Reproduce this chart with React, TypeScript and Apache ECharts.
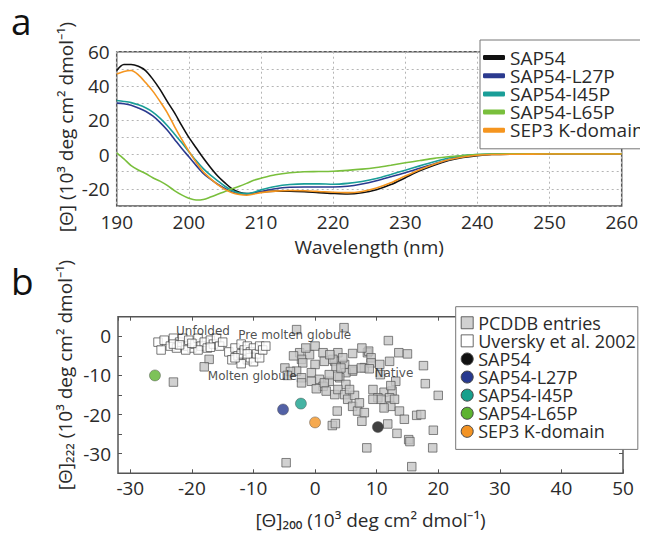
import React, { useEffect, useRef } from "react";
import * as echarts from "echarts";

// ---------- Panel a: CD spectra ----------
const wavelengths = [190,191,192,193,194,195,196,197,198,199,200,201,202,203,204,205,206,207,208,209,210,212,214,216,218,220,222,224,226,228,230,232,234,236,238,240,242,245,250,255,260];
const sap54 = [49,52.5,52.5,51.5,49,44,38,31,24.5,17,10,4,-2,-7.5,-12.5,-16.5,-20,-22,-22.8,-22.5,-21.8,-21.3,-21.3,-21.6,-22.2,-22.7,-23,-22.3,-20.5,-17.5,-13.5,-9.5,-6.2,-3.5,-1.7,-0.6,0,0.3,0.4,0.5,0.5];
const sap54L27P = [30,29.6,28.8,27.2,25.3,22.5,18.8,14.3,9,3.7,-1.3,-6.3,-11,-14.3,-17.3,-19.8,-21.8,-22.8,-23,-22.4,-21.5,-19.9,-19.1,-18.9,-18.9,-18.9,-18.5,-17.2,-15.3,-13,-10.6,-8,-5.5,-3,-1.2,-0.2,0.2,0.4,0.4,0.4,0.4];
const sap54I45P = [31.5,31,30.3,29,27.3,24.8,21.3,17,12,7,1.7,-3.5,-8.2,-12,-15.3,-18.5,-21,-22.5,-22.8,-22,-20.6,-18.6,-17.5,-17.1,-17.1,-17.3,-16.8,-15.7,-14,-11.6,-9.1,-6.6,-4.2,-2,-0.6,0,0.3,0.5,0.5,0.5,0.5];
const sap54L65P = [1,-2.5,-6.5,-9,-11,-13.5,-15.5,-18,-21,-23.5,-25.5,-26.5,-26.2,-24.8,-23.2,-21.5,-20,-18.5,-16.8,-15,-13.8,-11.8,-10.6,-10,-9.9,-9.7,-9.2,-8.5,-7.5,-6.2,-4.8,-3.5,-2.2,-1.3,-0.5,0,0.3,0.5,0.5,0.5,0.5];
const sep3K = [47,48.5,49,46.5,42,37,31,24.5,16.5,9,2,-4.5,-10,-14,-17.5,-20.3,-22.3,-23.3,-23.7,-23,-22.2,-21.3,-21,-21.1,-21.5,-22,-22.2,-21.5,-19.5,-16.5,-12.5,-8.8,-5.6,-3,-1.4,-0.4,0,0.2,0.3,0.3,0.3];

const lineNames = ["SAP54", "SAP54-L27P", "SAP54-I45P", "SAP54-L65P", "SEP3 K-domain"];
const lineColors = ["#111111", "#2b3a8f", "#1a9e98", "#79bf3c", "#f5951f"];
const lineValues = [sap54, sap54L27P, sap54I45P, sap54L65P, sep3K];

// ---------- Panel b: [Θ]200 vs [Θ]222 ----------
const pcddb = [
  [-23,-11.7],[-17.2,-5.9],[-18,-7.8],[-4.7,-32.3],
  [-3,1.7],[4.7,2.2],[0,-2.5],[-2.5,-4.2],[-0.9,-4.7],[1.3,-4.2],[3.7,-4.2],[-2.2,-5.9],[-2,-6.8],[0,-7.2],[1.5,-6.4],[3.2,-6.4],[4.8,-7.2],[6.1,-8.9],[5,-9.3],[-3,-8.9],[-4.9,-8.1],[-0.6,-9.3],[-2.2,-10.6],[0.7,-11],[2.3,-11.5],[4,-10.6],[1.3,-12.8],[5,-12.3],[8.5,-4.2],[8,-8],
  [-2.2,-11.9],[-0.6,-11.5],[0.2,-13.4],[1.5,-11.9],[1.8,-14],[3.2,-14.9],[3.7,-13.6],[4.8,-14.9],[5.3,-16.1],[6.4,-15.1],[6.1,-17.9],[6.9,-19.1],[8,-19.5],[7.6,-21.7],[3.6,-19.1],[2.8,-22.8],[3.3,-22.3],[8.4,-28.5],
  [11.9,-1.1],[8.7,-3.8],[9.1,-5.5],[9.1,-6.8],[13.6,-4.2],[15,-4.5],[12.1,-6.4],[10.5,-7.2],[7.5,-8.1],[8.8,-8.3],[10.6,-9.8],[17.6,-7.5],[13.1,-11.5],[17.9,-12.1],[9.4,-13.6],[11.2,-14.3],[12.5,-14],[20,-15.1],[10.2,-15.7],[12.1,-15.7],
  [10.7,-16.1],[12.3,-17.9],[11.2,-18.3],[13.7,-19.1],[14.5,-21.2],[16.5,-20.2],[17.2,-20],[11.8,-22.4],[13.3,-24.8],[15.2,-26.4],[15.4,-26.9],[19.2,-24],[19.1,-28.5],[15.7,-33.3],
  [2.3,-9.8],[3.4,-7.7],[2.9,-5.9],[3.7,-10.2],[5.6,-13.6],[7.2,-17],[9.4,-16.1],[12.9,-16.1],[12.3,-12.6],[6.1,-8.5],[4.2,-8.1],[4.5,-5.5],[6.1,-4.4],[7.6,-3],[2.4,-4.7],[-4,-9],[-1.5,-3],[-3.5,-5],[-4.5,-10]
];
const uversky = [
  [-25.5,-1.5],[-25,-3.5],[-24.5,-1],[-23.5,-2.5],[-23,-0.5],[-22.5,-3],[-22,-1.5],[-21.5,-0.5],[-21,-2.5],[-20.5,-1],[-20,-3],[-19.5,-2],[-19,-0.5],[-18.5,-2.5],[-18,-1.5],[-17.5,-3],[-17,-1],[-16.5,-2],[-16,-0.5],[-15.5,-2.5],[-15,-1.5],[-21,-3.5],[-19,-3.5],[-23,-2],[-17,-2.8],[-20,-1.8],[-22,-2.2],
  [-14,-4],[-13.5,-6],[-13,-3],[-12.5,-5],[-12,-2],[-12,-4.5],[-11.5,-3.5],[-11,-6],[-11,-2.5],[-10.5,-4],[-10.5,-5.5],[-10,-3],[-10,-6.5],[-9.5,-4.5],[-9,-2.5],[-9,-5.5],[-8.5,-3.5],[-8,-2.5],[-12,-7],[-13,-5.5],[-11,-4.5]
];
const proteinNames = ["SAP54", "SAP54-L27P", "SAP54-I45P", "SAP54-L65P", "SEP3 K-domain"];
const proteinPoints = [[10.2,-23.2],[-5.2,-18.7],[-2.3,-17.2],[-26,-10],[0,-22]];
const proteinColors = ["#111111", "#27398f", "#17a08c", "#5db330", "#f39323"];
const regionLabels = ["Unfolded", "Pre molten globule", "Molten globule", "Native"];
const regionLabelPos = [[-18.2,1.3],[-3.3,0.2],[-10.2,-10.1],[12.8,-9.3]];

const FONT = "'Open Sans', sans-serif";
const TXT = "#2a2a2a";

export default function App() {
  const ref = useRef<HTMLDivElement>(null);
  useEffect(() => {
    if (!ref.current) return;
    const chart = echarts.init(ref.current, null, { renderer: "svg" });

    const lineSeries = lineNames.map((n, i) => ({
      name: n,
      type: "line",
      xAxisIndex: 0,
      yAxisIndex: 0,
      data: wavelengths.map((w, j) => [w, lineValues[i][j]]),
      showSymbol: false,
      smooth: 0.3,
      lineStyle: { color: lineColors[i], width: 1.6 },
      itemStyle: { color: lineColors[i] },
      z: 3,
    }));

    const scatterProteins = proteinNames.map((n, i) => ({
      name: n,
      type: "scatter",
      xAxisIndex: 1,
      yAxisIndex: 1,
      data: [proteinPoints[i]],
      symbol: "circle",
      symbolSize: 11,
      itemStyle: { color: proteinColors[i], borderColor: "#555", borderWidth: 0.6 },
      z: 5,
    }));

    const boxTick = { show: true, inside: true, length: 4, lineStyle: { color: "#555" } };

    const option: any = {
      animation: false,
      textStyle: { fontFamily: FONT },
      grid: [
        { left: 108.7, top: 43.7, width: 505, height: 154.3, show: true, borderColor: "#555", borderWidth: 1.5, backgroundColor: "transparent" },
        { left: 110, top: 308.7, width: 505, height: 156.6, show: true, borderColor: "#555", borderWidth: 1.5, backgroundColor: "transparent" },
      ],
      xAxis: [
        {
          gridIndex: 0, type: "value", min: 190, max: 260, interval: 10,
          name: "Wavelength (nm)", nameLocation: "middle", nameGap: 31,
          nameTextStyle: { fontFamily: FONT, fontSize: 19, color: TXT },
          axisLine: { show: false, onZero: false }, axisTick: { show: false },
          axisLabel: { fontFamily: FONT, fontSize: 19, color: TXT, margin: 6 },
          splitLine: { show: true, lineStyle: { color: "#b5b5b5", type: [2, 3], width: 1 } },
        },
        {
          gridIndex: 1, type: "value", min: -32, max: 50, splitNumber: 8,
          name: "[Θ]₂₀₀ (10³ deg cm² dmol⁻¹)", nameLocation: "middle", nameGap: 37,
          nameTextStyle: { fontFamily: FONT, fontSize: 19, color: TXT },
          axisLine: { show: false, onZero: false },
          axisTick: boxTick,
          axisLabel: { fontFamily: FONT, fontSize: 19, color: TXT, margin: 5, showMinLabel: false,
            formatter: (v: number) => (v % 10 === 0 ? String(v) : "") },
          splitLine: { show: false },
        },
        {
          gridIndex: 1, type: "value", min: -32, max: 50, splitNumber: 8, position: "top",
          axisLine: { show: false, onZero: false },
          axisTick: boxTick,
          axisLabel: { show: false },
          splitLine: { show: false },
        },
      ],
      yAxis: [
        {
          gridIndex: 0, type: "value", min: -30, max: 60, interval: 10,
          axisLine: { show: false, onZero: false }, axisTick: { show: false },
          axisLabel: { fontFamily: FONT, fontSize: 19, color: TXT, margin: 7,
            formatter: (v: number) => (v % 20 === 0 ? String(v) : "") },
          splitLine: { show: true, lineStyle: { color: "#b5b5b5", type: [2, 3], width: 1 } },
        },
        {
          gridIndex: 1, type: "value", min: -35, max: 5, interval: 5,
          axisLine: { show: false, onZero: false },
          axisTick: boxTick,
          axisLabel: { fontFamily: FONT, fontSize: 19, color: TXT, margin: 7,
            formatter: (v: number) => (v % 10 === 0 ? String(v) : "") },
          splitLine: { show: false },
        },
        {
          gridIndex: 1, type: "value", min: -35, max: 5, interval: 5, position: "right",
          axisLine: { show: false, onZero: false },
          axisTick: boxTick,
          axisLabel: { show: false },
          splitLine: { show: false },
        },
      ],
      legend: [
        {
          orient: "vertical", left: 472, top: 32, selectedMode: false,
          data: lineNames.map((n, i) => ({ name: n, icon: "roundRect", itemStyle: { color: lineColors[i], borderWidth: 0 } })),
          itemWidth: 22, itemHeight: 5, itemGap: -0.8,
          padding: [8, 3, 9, 3],
          backgroundColor: "#fff", borderColor: "#777", borderWidth: 1, borderRadius: 0,
          textStyle: { fontFamily: FONT, fontSize: 19, color: TXT },
        },
        {
          orient: "vertical", left: 447.7, top: 298.7, selectedMode: false,
          data: [
            { name: "PCDDB entries", icon: "rect", itemStyle: { color: "#c6c6c6", borderColor: "#444", borderWidth: 1 } },
            { name: "Uversky et al. 2002", icon: "rect", itemStyle: { color: "#ffffff", borderColor: "#444", borderWidth: 1 } },
            ...proteinNames.map((n, i) => ({ name: n, icon: "circle", itemStyle: { color: proteinColors[i], borderColor: "#444", borderWidth: 1 } })),
          ],
          itemWidth: 12, itemHeight: 12, itemGap: 0,
          padding: [7, 2, 9, 5],
          backgroundColor: "#fff", borderColor: "#777", borderWidth: 1, borderRadius: 0,
          textStyle: { fontFamily: FONT, fontSize: 18, color: TXT, lineHeight: 18.1 },
        },
      ],
      graphic: [
        { type: "text", x: 3, y: -6, style: { text: "a", fontFamily: FONT, fontSize: 37, fill: "#111", verticalAlign: "top" } },
        { type: "text", x: 3, y: 254, style: { text: "b", fontFamily: FONT, fontSize: 37, fill: "#111", verticalAlign: "top" } },
        { type: "text", x: 58, y: 119, rotation: Math.PI / 2,
          style: { text: "[Θ] (10³ deg cm² dmol⁻¹)", fontFamily: FONT, fontSize: 19, fill: TXT, align: "center", verticalAlign: "middle" } },
        { type: "text", x: 57, y: 367, rotation: Math.PI / 2,
          style: { text: "[Θ]₂₂₂ (10³ deg cm² dmol⁻¹)", fontFamily: FONT, fontSize: 19, fill: TXT, align: "center", verticalAlign: "middle" } },
      ],
      series: [
        ...lineSeries,
        {
          name: "PCDDB entries", type: "scatter", xAxisIndex: 1, yAxisIndex: 1,
          data: pcddb, symbol: "rect", symbolSize: 8.5,
          itemStyle: { color: "#c6c6c6", borderColor: "#555", borderWidth: 0.9 }, z: 3,
        },
        {
          name: "Uversky et al. 2002", type: "scatter", xAxisIndex: 1, yAxisIndex: 1,
          data: uversky, symbol: "rect", symbolSize: 8.5,
          itemStyle: { color: "#ffffff", borderColor: "#444", borderWidth: 0.9 }, z: 3,
        },
        ...scatterProteins,
        {
          name: "region labels", type: "scatter", xAxisIndex: 1, yAxisIndex: 1,
          data: regionLabels.map((t, i) => ({ name: t, value: regionLabelPos[i] })),
          symbolSize: 1, itemStyle: { color: "transparent" }, z: 6,
          label: { show: true, position: "inside", formatter: "{b}", fontFamily: "'DejaVu Sans', sans-serif", fontSize: 12, color: "#222" },
        },
      ],
    };
    chart.setOption(option);
    return () => chart.dispose();
  }, []);
  return <div ref={ref} style={{ width: 640, height: 526 }} />;
}
